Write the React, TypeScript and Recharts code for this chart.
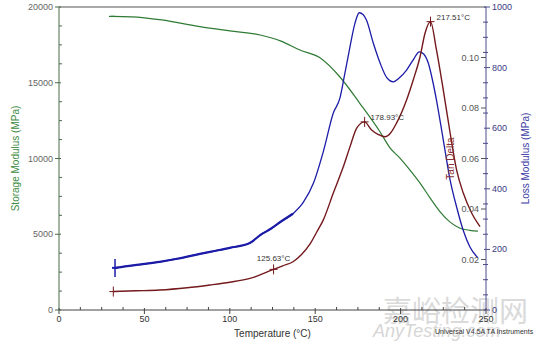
import React from 'react';
import { ComposedChart, Line, Scatter, XAxis, YAxis, ReferenceLine, Label } from 'recharts';

// Storage modulus (MPa)
const storageT = [30.4, 42.5, 60, 82.5, 100, 117.7, 130, 141, 152.8, 164.5, 176, 188, 193.8, 199.6, 205.5, 211.4, 217.2, 223, 229, 234.8, 240.6, 245.3];
const storageV = [19380, 19350, 19150, 18700, 18420, 18150, 17750, 17160, 16650, 15380, 13660, 11750, 10700, 10030, 9240, 8380, 7400, 6500, 5800, 5400, 5260, 5200];

// Loss modulus (MPa)
const lossT = [32.8, 40, 50, 59, 70, 80, 88.4, 100, 112, 118, 124, 130, 137, 143, 149, 155, 160.6, 164.5, 167, 170, 173.3, 175.8, 178, 180, 184, 188, 192, 195.7, 199, 203.5, 207.3, 211, 213.5, 216.2, 219, 221, 225, 229, 232.8, 236.6, 240.6, 245.3];
const lossV = [139, 145, 152, 159, 170, 182, 192, 205, 222, 248, 268, 292, 318, 355, 419, 528, 650, 700, 770, 858, 947, 981, 975, 957, 881, 815, 766, 753, 765, 792, 825, 852, 845, 815, 750, 693, 561, 429, 340, 264, 208, 172];

// Tan delta
const tanT = [31.8, 45, 59, 75, 88.4, 100, 111.8, 125.6, 131, 137, 142, 147, 151, 154.7, 160.6, 166.5, 170.4, 174.3, 178.9, 183, 187, 190.9, 194, 197.6, 203.5, 207.4, 211.4, 214.3, 217.5, 221, 225, 229, 232.8, 236.7, 241.6, 246.5];
const tanV = [0.0073, 0.0076, 0.0079, 0.0088, 0.0099, 0.011, 0.0125, 0.0161, 0.0175, 0.0191, 0.022, 0.0262, 0.031, 0.0356, 0.0463, 0.0568, 0.0647, 0.072, 0.0745, 0.0713, 0.0695, 0.0686, 0.07, 0.074, 0.0832, 0.0911, 0.1003, 0.1096, 0.1142, 0.103, 0.0871, 0.0701, 0.0554, 0.0463, 0.0384, 0.033];

// Annotated points
const tanMarkT = [31.8, 125.63, 178.93, 217.51];
const tanMarkV = [0.0073, 0.0161, 0.0745, 0.1142];
const tanMarkLabels = ['', '125.63°C', '178.93°C', '217.51°C'];
const lossMarkT = [32.8];
const lossMarkV = [139];
const storageMarkT = [30.4];
const storageMarkV = [19380];

// Ticks
const xTicks = [0, 12.5, 25, 37.5, 50, 62.5, 75, 87.5, 100, 112.5, 125, 137.5, 150, 162.5, 175, 187.5, 200, 212.5, 225, 237.5, 250];
const leftTicks = [0, 1250, 2500, 3750, 5000, 6250, 7500, 8750, 10000, 11250, 12500, 13750, 15000, 16250, 17500, 18750, 20000];
const lossTicks = [0, 50, 100, 150, 200, 250, 300, 350, 400, 450, 500, 550, 600, 650, 700, 750, 800, 850, 900, 950, 1000];
const tanTicks = [0.02, 0.04, 0.06, 0.08, 0.1];

const storageData = storageT.map((t, i) => ({ t, v: storageV[i] }));
const lossData = lossT.map((t, i) => ({ t, v: lossV[i] }));
const lossNoisy = lossData.filter((d) => d.t <= 137);
const tanData = tanT.map((t, i) => ({ t, v: tanV[i] }));
const tanMarks = tanMarkT.map((t, i) => ({ t, v: tanMarkV[i], label: tanMarkLabels[i] }));
const lossMarks = lossMarkT.map((t, i) => ({ t, v: lossMarkV[i] }));
const storageMarks = storageMarkT.map((t, i) => ({ t, v: storageMarkV[i] }));

const GREEN = '#2f7a34';
const BLUE = '#1c1ca8';
const BROWN = '#74191c';
const FONT = '"Liberation Sans", Arial, sans-serif';
const PLOT_RIGHT = 486;

const XTick = (p: any) => {
  const { x, y, payload } = p;
  const v = payload.value;
  const major = v % 50 === 0;
  return (
    <g>
      {major ? (
        <>
          <line x1={x} x2={x} y1={y - 2} y2={y + 4} stroke="#444" />
          <text x={x} y={y + 9} textAnchor="middle" dominantBaseline="central" fontSize={9} fill="#333" fontFamily={FONT}>{v}</text>
        </>
      ) : (
        <line x1={x} x2={x} y1={y - 3} y2={y} stroke="#444" />
      )}
    </g>
  );
};

const LeftTick = (p: any) => {
  const { x, y, payload } = p;
  const v = payload.value;
  const major = v % 5000 === 0;
  return (
    <g>
      {major ? (
        <>
          <line x1={x - 4} x2={x + 2} y1={y} y2={y} stroke="#4a6a4a" />
          <text x={x - 6} y={y} textAnchor="end" dominantBaseline="central" fontSize={9} fill="#666" fontFamily={FONT}>{v}</text>
        </>
      ) : (
        <line x1={x} x2={x + 3} y1={y} y2={y} stroke="#4a6a4a" />
      )}
    </g>
  );
};

const LossTick = (p: any) => {
  const { x, y, payload } = p;
  const v = payload.value;
  const major = v % 200 === 0;
  return (
    <g>
      {major ? (
        <>
          <line x1={x - 2} x2={x + 4} y1={y} y2={y} stroke="#4a4a8a" />
          <text x={x + 6} y={y} textAnchor="start" dominantBaseline="central" fontSize={9} fill="#3a3a80" fontFamily={FONT}>{v}</text>
        </>
      ) : (
        <line x1={x - 3} x2={x + 2} y1={y} y2={y} stroke="#4a4a8a" />
      )}
    </g>
  );
};

// Tan delta ticks drawn against the plot's right edge (inside the plot)
const TanTick = (p: any) => {
  const { y, payload } = p;
  const x = PLOT_RIGHT;
  const v = payload.value as number;
  return (
    <g>
      <line x1={x - 5} x2={x} y1={y} y2={y} stroke="#555" />
      <text x={x - 7} y={y} textAnchor="end" dominantBaseline="central" fontSize={9} fill="#555" fontFamily={FONT}>{v.toFixed(2)}</text>
    </g>
  );
};

const TanMark = (p: any) => {
  const { cx, cy, payload } = p;
  const lab = payload.label as string;
  const isStart = lab === '';
  const isLow = lab === '125.63°C';
  return (
    <g>
      <line x1={cx} x2={cx} y1={cy - 5} y2={cy + 5} stroke={BROWN} strokeWidth={1} />
      <line x1={cx - 4} x2={cx + 4} y1={cy} y2={cy} stroke={BROWN} strokeWidth={1} />
      {!isStart && (
        isLow ? (
          <text x={cx} y={cy - 8} textAnchor="middle" fontSize={8} fill="#333" fontFamily={FONT}>{lab}</text>
        ) : (
          <text x={cx + 6} y={cy - 2} textAnchor="start" fontSize={8} fill="#333" fontFamily={FONT}>{lab}</text>
        )
      )}
    </g>
  );
};

const LossMark = (p: any) => {
  const { cx, cy } = p;
  return (
    <g>
      <line x1={cx} x2={cx} y1={cy - 9} y2={cy + 9} stroke={BLUE} strokeWidth={1.5} />
      <line x1={cx - 3} x2={cx + 3} y1={cy} y2={cy} stroke={BLUE} strokeWidth={2} />
    </g>
  );
};

const StorageMark = (p: any) => {
  const { cx, cy } = p;
  return <line x1={cx - 2} x2={cx + 4} y1={cy} y2={cy} stroke={GREEN} strokeWidth={1.2} />;
};

export default function App() {
  return (
    <div style={{ position: 'absolute', left: 0, top: 0, width: 534, height: 348, background: '#fff', fontFamily: FONT }}>
      <div style={{ position: 'absolute', left: 383, top: 295, fontSize: 29, lineHeight: 1, color: '#dadada', fontFamily: '"Noto Sans CJK SC", sans-serif', whiteSpace: 'nowrap' }}>嘉峪检测网</div>
      <div style={{ position: 'absolute', left: 373, top: 322, fontSize: 18, lineHeight: 1, color: '#d6d6d6', fontStyle: 'italic', fontFamily: FONT, whiteSpace: 'nowrap' }}>AnyTesting.com</div>
      <div style={{ position: 'absolute', left: 0, top: 0 }}>
        <ComposedChart width={534} height={348} margin={{ top: 7, right: 0, bottom: 0, left: 0 }}>
          <XAxis
            xAxisId="x"
            dataKey="t"
            type="number"
            domain={[0, 250]}
            ticks={xTicks}
            interval={0}
            tick={XTick}
            tickLine={false}
            tickSize={0}
            tickMargin={0}
            height={38}
            axisLine={{ stroke: '#444' }}
          >
            <Label
              content={(lp: any) => {
                const vb = lp.viewBox;
                return (
                  <text x={vb.x + vb.width / 2} y={333} textAnchor="middle" dominantBaseline="central" fontSize={10} fill="#333" fontFamily={FONT}>Temperature (°C)</text>
                );
              }}
            />
          </XAxis>
          <YAxis
            yAxisId="left"
            orientation="left"
            type="number"
            domain={[0, 20000]}
            ticks={leftTicks}
            interval={0}
            tick={LeftTick}
            tickLine={false}
            tickSize={0}
            tickMargin={0}
            width={59}
            axisLine={{ stroke: '#4a6a4a' }}
          >
            <Label
              content={(lp: any) => {
                const vb = lp.viewBox;
                const cy = vb.y + vb.height / 2;
                return (
                  <text x={15} y={cy} transform={`rotate(-90 15 ${cy})`} textAnchor="middle" dominantBaseline="central" fontSize={10} fill="#3d8a42" fontFamily={FONT}>Storage Modulus (MPa)</text>
                );
              }}
            />
          </YAxis>
          <YAxis
            yAxisId="loss"
            orientation="right"
            type="number"
            domain={[0, 1000]}
            ticks={lossTicks}
            interval={0}
            tick={LossTick}
            tickLine={false}
            tickSize={0}
            tickMargin={0}
            width={47}
            axisLine={{ stroke: '#4a4a8a' }}
          >
            <Label
              content={(lp: any) => {
                const vb = lp.viewBox;
                const cy = vb.y + vb.height / 2;
                const x = 525;
                return (
                  <text x={x} y={cy} transform={`rotate(-90 ${x} ${cy})`} textAnchor="middle" dominantBaseline="central" fontSize={10} fill="#3c3ca6" fontFamily={FONT}>Loss Modulus (MPa)</text>
                );
              }}
            />
          </YAxis>
          <YAxis
            yAxisId="tan"
            orientation="right"
            type="number"
            domain={[0, 0.12]}
            ticks={tanTicks}
            interval={0}
            tick={TanTick}
            tickLine={false}
            tickSize={0}
            tickMargin={0}
            width={1}
            axisLine={false}
          >
            <Label
              content={(lp: any) => {
                const vb = lp.viewBox;
                const cy = vb.y + vb.height / 2;
                const x = 450;
                return (
                  <text x={x} y={cy} transform={`rotate(-90 ${x} ${cy})`} textAnchor="middle" dominantBaseline="central" fontSize={10} fill="#8a3030" fontFamily={FONT}>Tan Delta</text>
                );
              }}
            />
          </YAxis>
          <ReferenceLine xAxisId="x" yAxisId="left" y={20000} stroke="#555" strokeWidth={1} />
          <Line xAxisId="x" yAxisId="left" data={storageData} dataKey="v" type="monotone" dot={false} stroke={GREEN} strokeWidth={1.2} isAnimationActive={false} />
          <Line xAxisId="x" yAxisId="loss" data={lossNoisy} dataKey="v" type="monotone" dot={false} stroke={BLUE} strokeWidth={2.2} isAnimationActive={false} />
          <Line xAxisId="x" yAxisId="loss" data={lossData} dataKey="v" type="monotone" dot={false} stroke={BLUE} strokeWidth={1.3} isAnimationActive={false} />
          <Line xAxisId="x" yAxisId="tan" data={tanData} dataKey="v" type="monotone" dot={false} stroke={BROWN} strokeWidth={1.4} isAnimationActive={false} />
          <Scatter xAxisId="x" yAxisId="tan" data={tanMarks} dataKey="v" shape={TanMark} isAnimationActive={false} />
          <Scatter xAxisId="x" yAxisId="loss" data={lossMarks} dataKey="v" shape={LossMark} isAnimationActive={false} />
          <Scatter xAxisId="x" yAxisId="left" data={storageMarks} dataKey="v" shape={StorageMark} isAnimationActive={false} />
        </ComposedChart>
      </div>
      <div style={{ position: 'absolute', left: 435, top: 328, fontSize: 7, lineHeight: 1, color: '#333', fontFamily: FONT, whiteSpace: 'nowrap' }}>Universal V4.5A TA Instruments</div>
    </div>
  );
}
